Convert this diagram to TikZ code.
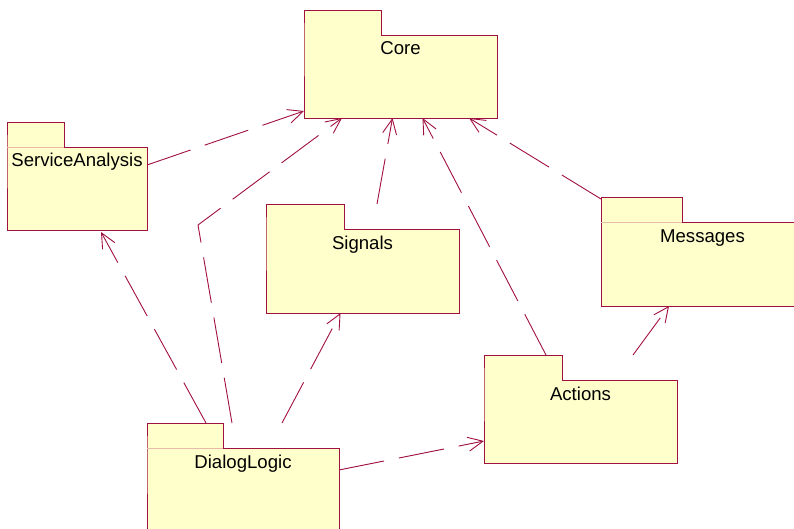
\documentclass[tikz,border=0pt]{standalone}
\usepackage{fontspec}
\setmainfont{Liberation Sans}
\usetikzlibrary{arrows.meta}

\definecolor{pkgline}{RGB}{160,16,64}
\definecolor{pkgfill}{RGB}{255,255,204}
\definecolor{pkgsep}{RGB}{232,186,168}

\tikzstyle{pkgbody} = [anchor=north west, fill=pkgfill, inner sep=0, outer sep=0]
\tikzstyle{pkgtab} = [anchor=south west, fill=pkgfill, inner sep=0, outer sep=0, minimum height=25pt]
\tikzstyle{pkgedge} = [draw=pkgline, line width=0.9pt]
\tikzstyle{pkgsepline} = [draw=pkgsep, line width=0.9pt]
\tikzstyle{pkglabel} = [anchor=base, inner sep=0, font=\fontsize{18.6}{20}\selectfont]
\tikzstyle{dep} = [draw=pkgline, line width=0.9pt, dash pattern=on 46pt off 15pt,
    -{Straight Barb[length=15pt,width=14pt]}]

% name, body top left, body width, body height, tab width, label
\newcommand{\umlpkg}[6]{%
    \node[pkgbody, minimum width=#3, minimum height=#4] (#1) at #2 {};
    \node[pkgtab, minimum width=#5] (#1-tab) at (#1.north west) {};
    \draw[pkgedge] (#1-tab.south west) |- (#1-tab.north east) |- (#1.north east)
        -- (#1.south east) -- (#1.south west) -- cycle;
    \node[pkglabel] (#1-lbl) at ([yshift=-20pt]#1.north) {#6};
}

\begin{document}
\begin{tikzpicture}[x=1pt, y=-1pt]
\useasboundingbox (0,0) rectangle (794,529);
\clip (0,0) rectangle (794,529);

\umlpkg{core}{(304,35)}{193pt}{83pt}{77pt}{Core}
\umlpkg{sa}{(7,147)}{140pt}{83pt}{57pt}{ServiceAnalysis}
\umlpkg{sig}{(266,229)}{193pt}{84pt}{78pt}{Signals}
\umlpkg{msg}{(601,222)}{203pt}{84pt}{81pt}{Messages}
\umlpkg{act}{(484,380)}{193pt}{83pt}{78pt}{Actions}
\umlpkg{dl}{(147,448)}{192pt}{92pt}{76pt}{DialogLogic}

\draw[pkgsepline] (sa-tab.south west) -- (sa-tab.south east);
\draw[pkgsepline] (msg-tab.south west) -- (msg-tab.south east);
\draw[pkgsepline] (dl-tab.south west) -- (dl-tab.south east);

\coordinate (bend) at (198,225);

\draw[dep] ([yshift=-18pt]sa.north east) -- ([yshift=7pt]core.south west);
\draw[dep] ([xshift=9pt]dl-tab.north east) -- (bend) -- ([xshift=38pt]core.south west);
\draw[dep] ([xshift=-17pt]dl-tab.north east) -- ([xshift=24pt,yshift=-2pt]sa.south);
\draw[dep] ([xshift=59pt]dl-tab.north east) -- ([xshift=-22pt]sig.south);
\draw[dep] ([yshift=-22pt]dl.north east) -- ([yshift=-61pt]act.north west);
\draw[dep] ([xshift=33pt]sig-tab.north east) -- ([xshift=-8pt]core.south);
\draw[dep] ([xshift=-16pt]act-tab.north east) -- ([xshift=22pt]core.south);
\draw[dep] ([xshift=71pt]act-tab.north east) -- ([xshift=68pt]msg.south west);
\draw[dep] ([yshift=-2pt]msg-tab.north west) -- ([xshift=-28pt]core.south east);
\end{tikzpicture}
\end{document}
